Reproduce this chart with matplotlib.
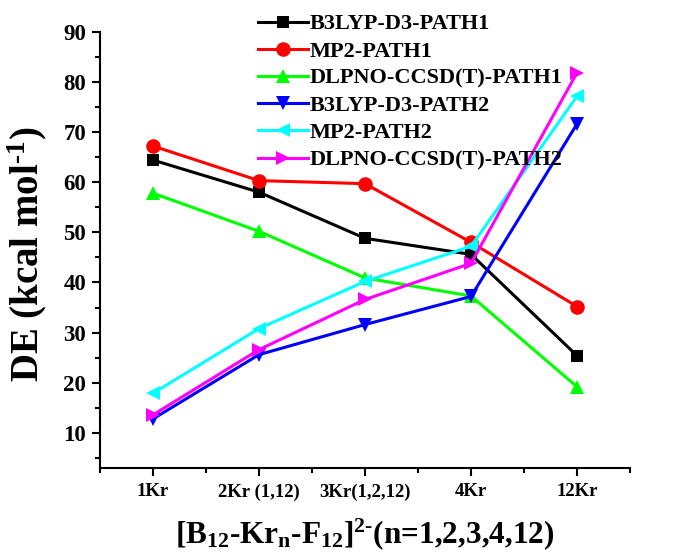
import matplotlib.pyplot as plt
from matplotlib.ticker import MultipleLocator, FixedLocator

# categories along the x axis
categories = ['1Kr', '2Kr (1,12)', '3Kr(1,2,12)', '4Kr', '12Kr']

# DE values (kcal/mol)
b3lyp_path1 = [64.4, 58.0, 48.8, 45.6, 25.4]
mp2_path1 = [67.2, 60.3, 59.7, 48.0, 35.2]
dlpno_path1 = [57.8, 50.2, 40.9, 37.3, 19.2]
b3lyp_path2 = [12.8, 25.6, 31.6, 37.2, 71.6]
mp2_path2 = [17.9, 30.8, 40.2, 47.2, 77.1]
dlpno_path2 = [13.6, 26.6, 36.6, 43.8, 81.8]

series = [
    ('B3LYP-D3-PATH1', b3lyp_path1, '#000000', 's'),
    ('MP2-PATH1', mp2_path1, '#ff0000', 'o'),
    ('DLPNO-CCSD(T)-PATH1', dlpno_path1, '#00ff00', '^'),
    ('B3LYP-D3-PATH2', b3lyp_path2, '#0000ff', 'v'),
    ('MP2-PATH2', mp2_path2, '#00ffff', '<'),
    ('DLPNO-CCSD(T)-PATH2', dlpno_path2, '#ff00ff', '>'),
]

plt.rcParams['font.family'] = 'Liberation Serif'
plt.rcParams['font.weight'] = 'bold'
plt.rcParams['mathtext.default'] = 'regular'

fig = plt.figure(figsize=(6.83, 5.53), dpi=100)
ax = fig.add_axes([0.1464, 0.1537, 0.776, 0.789])

x = list(range(1, len(categories) + 1))
for name, vals, color, marker in series:
    ms = 9 if marker == 's' else 10.5
    ax.plot(x, vals, color=color, marker=marker, markersize=ms, lw=2.2,
            markeredgewidth=0, label=name)

ax.set_xlim(0.5, 5.5)
ax.set_ylim(3, 90)
ax.set_xticks(x)
ax.set_xticklabels(categories)
ax.xaxis.set_minor_locator(FixedLocator([0.5, 1.5, 2.5, 3.5, 4.5, 5.5]))
ax.set_yticks(range(10, 91, 10))
ax.yaxis.set_minor_locator(MultipleLocator(5))

for side in ['top', 'right']:
    ax.spines[side].set_visible(False)
for side in ['left', 'bottom']:
    ax.spines[side].set_linewidth(1.5)

ax.tick_params(axis='both', which='major', direction='out', length=6, width=1.5)
ax.tick_params(axis='both', which='minor', direction='out', length=3.5, width=1.5)
ax.tick_params(axis='x', labelsize=13.5, pad=5)
ax.tick_params(axis='y', labelsize=16.5, pad=4)
for lbl in ax.get_xticklabels() + ax.get_yticklabels():
    lbl.set_fontweight('bold')

ax.set_ylabel('DE (kcal mol$^{\u20101}$)', fontsize=28, fontweight='bold')
ax.yaxis.set_label_coords(-0.096, 0.49)
ax.set_xlabel('[B$_{12}$-Kr$_{n}$-F$_{12}$]$^{2\u2010}$(n=1,2,3,4,12)',
              fontsize=22.5, fontweight='bold', labelpad=11)

ax.legend(loc='upper left', bbox_to_anchor=(0.378, 0.975), bbox_transform=fig.transFigure,
          frameon=False, handlelength=2.25, handletextpad=0.05,
          labelspacing=0.3, borderpad=0, borderaxespad=0,
          prop={'weight': 'bold', 'size': 16})

fig.savefig('out.png', dpi=100)
